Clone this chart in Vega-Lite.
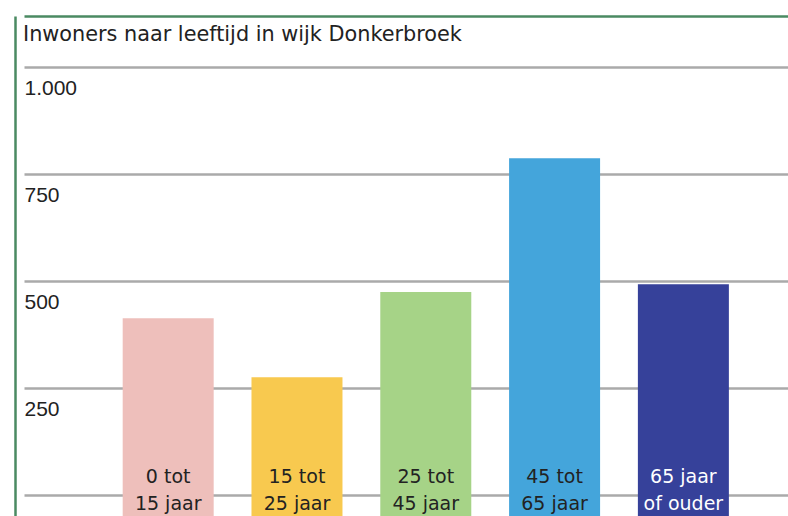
{
  "$schema": "https://vega.github.io/schema/vega-lite/v6.json",
  "autosize": "none",
  "padding": {"left": 15, "top": 16, "right": 0, "bottom": 0},
  "width": 800,
  "height": 503,
  "background": "white",
  "title": {
    "text": "Inwoners naar leeftijd in wijk Donkerbroek",
    "anchor": "start",
    "frame": "group",
    "font": "DejaVu Sans",
    "fontSize": 20.8,
    "fontWeight": "normal",
    "color": "#222222",
    "offset": -30,
    "dx": 8
  },
  "config": {"view": {"stroke": null}},
  "data": {
    "values": [
      {"groep": "0 tot 15 jaar", "label": "0 tot\n15 jaar", "inwoners": 413},
      {"groep": "15 tot 25 jaar", "label": "15 tot\n25 jaar", "inwoners": 275},
      {"groep": "25 tot 45 jaar", "label": "25 tot\n45 jaar", "inwoners": 474},
      {"groep": "45 tot 65 jaar", "label": "45 tot\n65 jaar", "inwoners": 786},
      {"groep": "65 jaar of ouder", "label": "65 jaar\nof ouder", "inwoners": 492}
    ]
  },
  "layer": [
    {
      "mark": {"type": "bar"},
      "encoding": {
        "x": {
          "field": "groep",
          "type": "nominal",
          "sort": null,
          "scale": {"range": [9, 800], "paddingInner": 0.2935, "paddingOuter": 0.7174, "align": 0.534},
          "axis": {
            "orient": "top",
            "title": null,
            "labels": false,
            "ticks": false,
            "grid": false,
            "domain": true,
            "domainColor": "#4a8a62",
            "domainWidth": 2.5
          }
        },
        "y": {
          "field": "inwoners",
          "type": "quantitative",
          "scale": {"domain": [-56, 1118.4], "nice": false, "zero": false},
          "axis": {
            "orient": "left",
            "values": [0, 250, 500, 750, 1000],
            "title": null,
            "domain": true,
            "domainColor": "#4a8a62",
            "domainWidth": 2.5,
            "ticks": false,
            "tickSize": 0,
            "labelAlign": "left",
            "labelBaseline": "alphabetic",
            "labelPadding": -9,
            "labelOffset": 27.5,
            "labelFont": "Liberation Sans",
            "labelFontSize": 21,
            "labelColor": "#222222",
            "labelExpr": "datum.value == 0 ? '' : replace(datum.label, ',', '.')",
            "grid": true,
            "gridColor": "#aaaaaa",
            "gridWidth": 2.5
          }
        },
        "y2": {"datum": -56},
        "color": {
          "field": "groep",
          "type": "nominal",
          "sort": null,
          "scale": {
            "domain": ["0 tot 15 jaar", "15 tot 25 jaar", "25 tot 45 jaar", "45 tot 65 jaar", "65 jaar of ouder"],
            "range": ["#eebfbb", "#f8c94f", "#a6d387", "#44a5db", "#36419a"]
          },
          "legend": null
        }
      }
    },
    {
      "mark": {
        "type": "text",
        "lineBreak": "\n",
        "baseline": "alphabetic",
        "align": "center",
        "font": "DejaVu Sans",
        "fontSize": 19,
        "lineHeight": 26.5
      },
      "encoding": {
        "x": {"field": "groep", "type": "nominal", "sort": null},
        "y": {"datum": 27},
        "text": {"field": "label", "type": "nominal"},
        "color": {
          "condition": {"test": "datum.groep === '65 jaar of ouder'", "value": "#ffffff"},
          "value": "#222222"
        }
      }
    }
  ]
}
